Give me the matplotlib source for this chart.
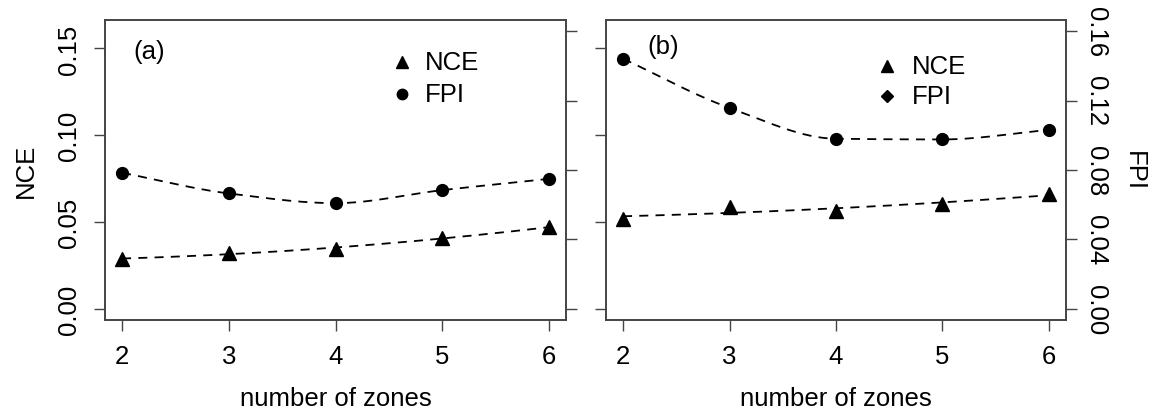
import matplotlib
matplotlib.use("Agg")
import matplotlib.pyplot as plt
import numpy as np

plt.rcParams['font.family'] = ['Liberation Sans', 'DejaVu Sans']

zones = [2, 3, 4, 5, 6]
nce_a = [0.0288, 0.0322, 0.0345, 0.0410, 0.0470]
fpi_a = [0.0784, 0.0665, 0.0609, 0.0684, 0.0749]
nce_b = [0.0519, 0.0588, 0.0561, 0.0603, 0.0663]
fpi_b = [0.1441, 0.1158, 0.0980, 0.0976, 0.1031]

nce_ticks = [0.00, 0.05, 0.10, 0.15]
fpi_ticks = [0.00, 0.04, 0.08, 0.12, 0.16]
panel_names = ["(a)", "(b)"]

FS = 18.5
SPINE = '#444444'


def pchip(x, y, xs):
    # monotone cubic (Fritsch-Carlson), smooth dashed curve through the points
    x = np.asarray(x, float); y = np.asarray(y, float)
    h = np.diff(x)
    dl = np.diff(y) / h
    m = np.zeros(len(x))
    m[0], m[-1] = dl[0], dl[-1]
    for i in range(1, len(x) - 1):
        if dl[i - 1] * dl[i] > 0:
            w1 = 2 * h[i] + h[i - 1]; w2 = h[i] + 2 * h[i - 1]
            m[i] = (w1 + w2) / (w1 / dl[i - 1] + w2 / dl[i])
    idx = np.clip(np.searchsorted(x, xs) - 1, 0, len(x) - 2)
    t = (xs - x[idx]) / h[idx]
    h00 = 2 * t**3 - 3 * t**2 + 1; h10 = t**3 - 2 * t**2 + t
    h01 = -2 * t**3 + 3 * t**2; h11 = t**3 - t**2
    return (h00 * y[idx] + h10 * h[idx] * m[idx] + h01 * y[idx + 1]
            + h11 * h[idx] * m[idx + 1])


def quad_fit(x, y, xs):
    return np.polyval(np.polyfit(x, y, 2), xs)


fig = plt.figure(figsize=(11.59, 4.14), dpi=100)
W, H = 1159, 414
boxes = [(105, 21, 461, 300), (606, 21, 460, 300)]
legpos = [(0.645, 0.694, 0.86, 0.753, 'o'), (0.611, 0.665, 0.847, 0.747, 'D')]
labpos = [(0.061, 0.897), (0.091, 0.913)]
data = [(nce_a, fpi_a), (nce_b, fpi_b)]

xs = np.linspace(2, 6, 200)
for k in range(2):
    x0, y0, w, h = boxes[k]
    ax = fig.add_axes([x0 / W, (H - y0 - h) / H, w / W, h / H])
    nce, fpi = data[k]
    ax.plot(xs, quad_fit(zones, nce, xs), color='black', lw=1.3, dashes=(5, 4))
    ax.plot(xs, pchip(zones, fpi, xs), color='black', lw=1.3, dashes=(5, 4))
    ax.plot(zones, nce, '^', color='black', ms=10, ls='none')
    ax.plot(zones, fpi, 'o', color='black', ms=8.5, ls='none')

    ax.set_xlim(1.84, 6.16)
    ax.set_ylim(-0.0064, 0.1664)
    ax.set_xticks(zones)
    ax.set_yticks(nce_ticks)
    ax.set_yticklabels(["%.2f" % v for v in nce_ticks], rotation=90, va='center')
    for s in ax.spines.values():
        s.set_color(SPINE); s.set_linewidth(1.2)
    ax.tick_params(axis='both', direction='out', length=8, width=1.0, color=SPINE,
                   labelsize=FS)
    ax.tick_params(axis='y', pad=9)
    ax.tick_params(axis='x', pad=9)
    ax.set_xlabel("number of zones", fontsize=FS, labelpad=13)

    ax2 = ax.twinx()
    ax2.set_ylim(-0.0064, 0.1664)
    ax2.set_yticks(fpi_ticks)
    ax2.set_yticklabels(["%.2f" % v for v in fpi_ticks], rotation=270, va='center')
    ax2.tick_params(axis='y', direction='out', length=8, width=1.0, color=SPINE,
                    labelsize=FS, pad=5)
    for s in ax2.spines.values():
        s.set_color(SPINE); s.set_linewidth(1.2)

    if k == 0:
        ax.set_ylabel("NCE", fontsize=FS, labelpad=14)
        ax2.tick_params(axis='y', labelright=False)
    else:
        ax.tick_params(axis='y', labelleft=False)
        ax2.set_ylabel("FPI", fontsize=FS, rotation=270, va='bottom', labelpad=10)

    mx, tx, r1, r2, fm = legpos[k]
    ax.plot([mx], [r1], '^', color='black', ms=9, transform=ax.transAxes)
    ax.plot([mx], [r2], fm, color='black', ms=7.5 if fm == 'o' else 6.5,
            transform=ax.transAxes)
    ax.text(tx, r1, "NCE", transform=ax.transAxes, fontsize=FS, va='center')
    ax.text(tx, r2, "FPI", transform=ax.transAxes, fontsize=FS, va='center')
    lx, ly = labpos[k]
    ax.text(lx, ly, panel_names[k], transform=ax.transAxes, fontsize=FS, va='center')

fig.savefig("out.png", dpi=100)
